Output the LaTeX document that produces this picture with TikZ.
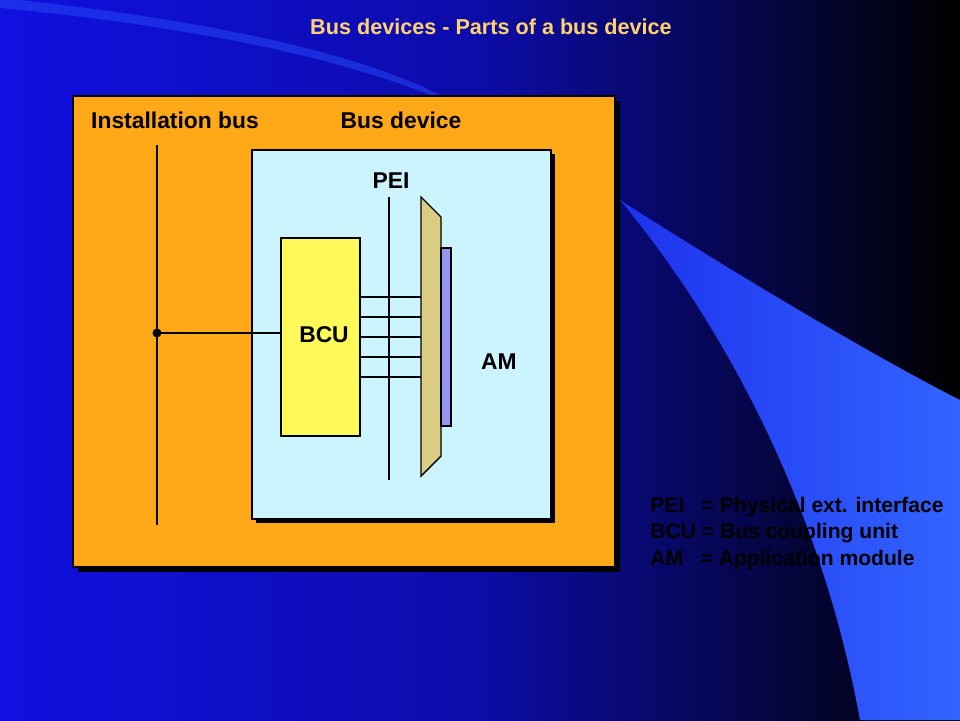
\documentclass[tikz,border=0pt]{standalone}
\usepackage{fontspec}
\setmainfont{Liberation Sans}
\usetikzlibrary{positioning}
\definecolor{bgblue}{RGB}{16,16,225}
\definecolor{swoosh}{RGB}{50,100,255}
\definecolor{housing}{RGB}{255,168,24}
\definecolor{devbox}{RGB}{204,244,255}
\definecolor{bcufill}{RGB}{255,250,90}
\definecolor{peifill}{RGB}{218,204,130}
\definecolor{amfill}{RGB}{150,150,240}
\definecolor{titlecol}{RGB}{255,210,110}
\tikzset{
  panel/.style={draw=black,line width=0.8pt},
  wire/.style={draw=black,line width=0.9pt},
  lbl/.style={font=\bfseries\fontsize{13}{15}\selectfont,inner sep=0pt}
}
\begin{document}
\begin{tikzpicture}[x=0.02cm,y=-0.02cm]
    \useasboundingbox (0,0) rectangle (960,720);
    %Background
    \shade[left color=bgblue,right color=black,middle color=bgblue!75!black] (0,0) rectangle (960,720);
    \shade[left color=swoosh!40!bgblue,right color=swoosh] (620,200) .. controls (760,290) and (900,370) .. (960,400)
        -- (960,720) -- (860,720) .. controls (820,500) and (720,320) .. (620,200) -- cycle;
    \fill[swoosh!60!bgblue,opacity=0.6] (20,0) .. controls (200,20) and (350,50) .. (440,95) -- (430,95) .. controls (330,55) and (180,25) .. (0,8) -- (0,0) -- cycle;
    \node[font=\bfseries\fontsize{12.3}{14}\selectfont,text=titlecol] (title) at (491,27) {Bus devices - Parts of a bus device};
    %Housing
    \fill[black] (78,101) rectangle (620,572);
    \filldraw[panel,fill=housing] (73,96) rectangle (615,567);
    \node[lbl] (inst) at (175,120) {Installation bus};
    \node[lbl] (dev) at (401,120) {Bus device};
    \fill[black] (256,154) rectangle (555,523);
    \filldraw[panel,fill=devbox] (252,150) rectangle (551,519);
    \node[lbl] (pei) at (391,181) {PEI};
    %Bus line
    \coordinate (bustop) at (157,145);
    \coordinate (busbot) at (157,525);
    \draw[line width=1.6pt] (bustop) -- (busbot);
    \coordinate (tap) at (157,333);
    \fill (tap) circle (4.5);
    %BCU
    \filldraw[panel,fill=bcufill] (281,238) rectangle (360,436);
    \node[lbl] (bcu) at (324,335) {BCU};
    \draw[line width=1.6pt] (tap) -- (281,333);
    %PEI
    \coordinate (peitop) at (389,197);
    \coordinate (peibot) at (389,480);
    \draw[wire] (peitop) -- (peibot);
    \foreach \y in {297,317,337,357,377}
        \draw[wire] (360,\y) -- (421,\y);
    \filldraw[panel,fill=peifill] (421,197) -- (441,217) -- (441,456) -- (421,476) -- cycle;
    \filldraw[panel,fill=amfill] (441,248) rectangle (451,426);
    \node[lbl] (am) at (499,362) {AM};
    %Legend
    \node[font=\bfseries\fontsize{12}{14}\selectfont,inner sep=0pt,anchor=north west,align=left] (legend) at (650,497) {PEI \ \ = Physical ext. interface\\[1pt]BCU = Bus coupling unit\\[1pt]AM \ \ = Application module};
\end{tikzpicture}
\end{document}
